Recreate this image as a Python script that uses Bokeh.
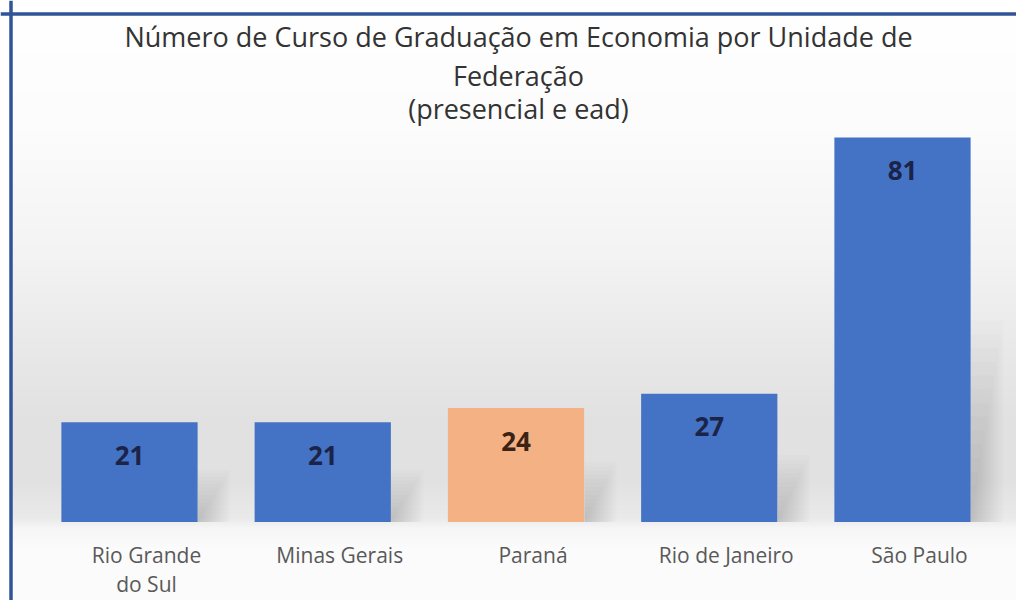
import numpy as np
from bokeh.plotting import figure
from bokeh.models import Range1d, ColumnDataSource, Label, Span
from bokeh.core.properties import value
from bokeh.embed import file_html
from bokeh.resources import INLINE

# ---- data ----
categories = ["Rio Grande\ndo Sul", "Minas Gerais", "Paraná", "Rio de Janeiro", "São Paulo"]
counts = [21, 21, 24, 27, 81]
bar_colors = ["#4472C4", "#4472C4", "#F4B183", "#4472C4", "#4472C4"]
label_colors = ["#1B2448", "#1B2448", "#3A2214", "#1B2448", "#1B2448"]
title_lines = ["Número de Curso de Graduação em Economia por Unidade de",
               "Federação",
               "(presencial e ead)"]

W, H = 1016, 600
PXU = 193.25   # pixels per category
PYU = 4.747    # pixels per count
X0 = -129 / PXU
X1 = X0 + W / PXU
Y1 = 521.5 / PYU
Y0 = Y1 - H / PYU
BAR_W = 0.705

p = figure(width=W, height=H, output_backend="svg", toolbar_location=None,
           x_range=Range1d(X0, X1), y_range=Range1d(Y0, Y1),
           x_axis_location=None, y_axis_location=None,
           min_border=0, outline_line_color=None)
p.grid.visible = False
p.background_fill_color = "white"
p.border_fill_color = "white"

def px_x(px):  # canvas pixel -> data x
    return X0 + px / W * (X1 - X0)

def px_y(py):  # canvas pixel -> data y
    return Y1 - py / H * (Y1 - Y0)

# background gradient (wall and floor)
stops_px = np.array([0, 120, 250, 350, 420, 480, 515, 525, 545, 600])
stops_g = np.array([255, 252, 243, 232, 225, 226, 234, 246, 251, 252])
rows = np.arange(H)[::-1]  # row 0 = bottom
g = np.interp(rows, stops_px, stops_g).astype(np.uint32)
img = np.empty((H, 1), dtype=np.uint32)
view = img.view(dtype=np.uint8).reshape((H, 1, 4))
view[:, 0, 0] = g
view[:, 0, 1] = g
view[:, 0, 2] = g
view[:, 0, 3] = 255
bx = px_x(10)
p.image_rgba(image=[img], x=bx, y=Y0, dw=X1 - bx, dh=px_y(13) - Y0)

idx = list(range(len(categories)))
tops = np.array(counts, dtype=float)
src = ColumnDataSource(dict(x=idx, top=counts, color=bar_colors,
                            lab=[str(v) for v in counts], lcol=label_colors,
                            cat=categories))

# soft shadows to the right of the bars (many faint layers)
steps = 14
for k in range(steps):
    t = (k + 1) / steps
    p.quad(left=[i + BAR_W / 2 for i in idx],
           right=[i + BAR_W / 2 + (32 * (1 - t) + 3) / PXU for i in idx],
           bottom=0, top=list(tops * (0.5 * (1 - t) + 0.06)),
           fill_color="black", fill_alpha=0.012, line_color=None)

p.vbar(x="x", top="top", bottom=0, width=BAR_W, fill_color="color",
       line_color=None, source=src)

p.text(x="x", y="top", text="lab", source=src, y_offset=33,
       text_align="center", text_baseline="middle",
       text_font=value("Open Sans"), text_font_style="bold",
       text_font_size="26px", text_color="lcol")

p.text(x="x", y=0, text="cat", source=src, x_offset=17, y_offset=19,
       text_align="center", text_baseline="top",
       text_font=value("Open Sans"), text_font_size="21px",
       text_color="#595959", text_line_height=1.05)

# title
for line, base in zip(title_lines, [36, 75, 108]):
    p.add_layout(Label(x=px_x(518), y=px_y(base), text=line,
                       text_align="center", text_baseline="alphabetic",
                       text_font="Open Sans", text_font_size="27px",
                       text_color="#333333"))

# chart border (left and top visible)
p.add_layout(Span(location=px_x(10.5), dimension="height",
                  line_color="#2F5597", line_width=3.5))
p.add_layout(Span(location=px_y(13.5), dimension="width",
                  line_color="#2F5597", line_width=3.5))

open("out.html", "w").write(file_html(p, INLINE))
